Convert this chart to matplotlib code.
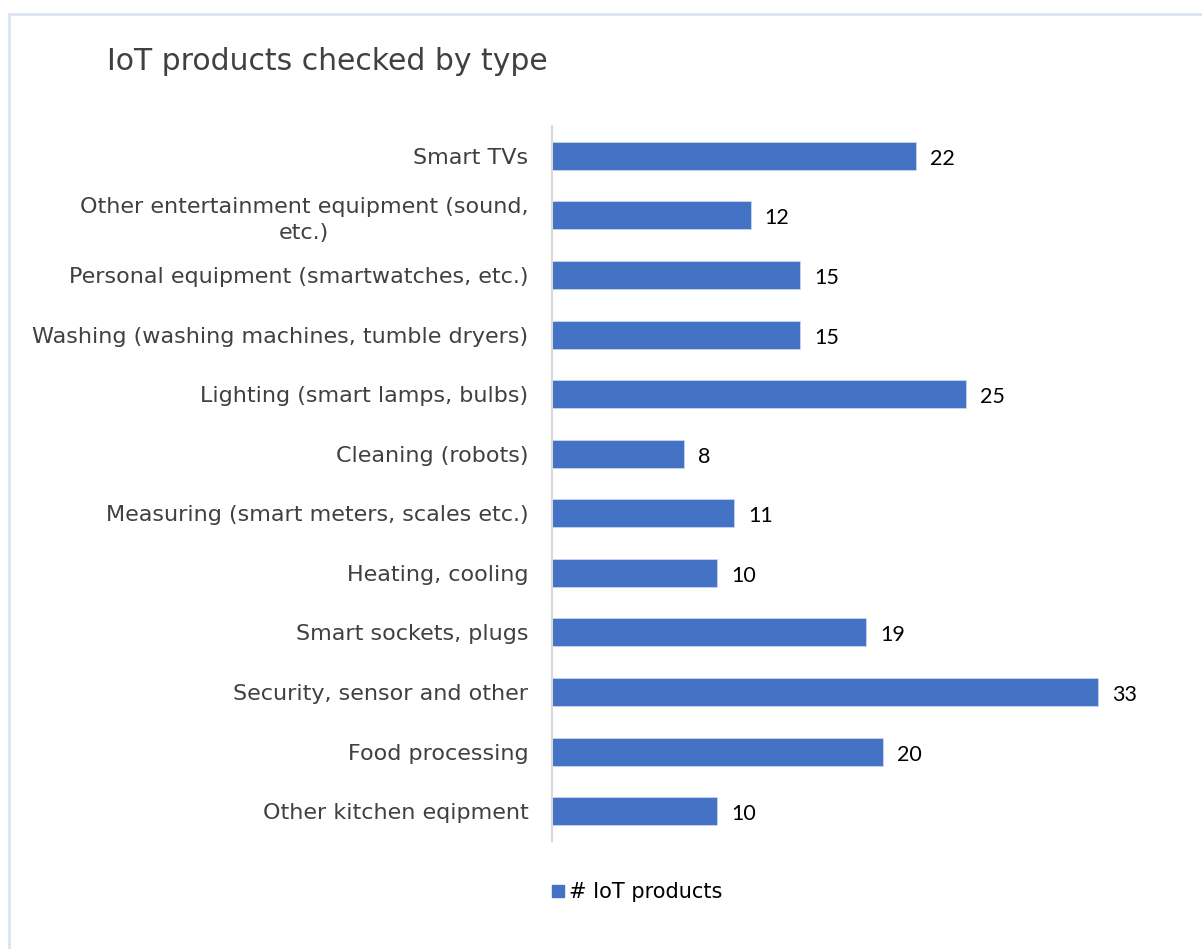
import matplotlib
matplotlib.use("Agg")
import matplotlib.pyplot as plt
from matplotlib.patches import Rectangle
from matplotlib.lines import Line2D

# Données
categories = [
    "Smart TVs",
    "Other entertainment equipment (sound,\netc.)",
    "Personal equipment (smartwatches, etc.)",
    "Washing (washing machines, tumble dryers)",
    "Lighting (smart lamps, bulbs)",
    "Cleaning (robots)",
    "Measuring (smart meters, scales etc.)",
    "Heating, cooling",
    "Smart sockets, plugs",
    "Security, sensor and other",
    "Food processing",
    "Other kitchen eqipment",
]
valeurs = [22, 12, 15, 15, 25, 8, 11, 10, 19, 33, 20, 10]
serie = "# IoT products"

bleu = "#4472C4"
gris_texte = "#404040"

W, H = 1202, 949
fig = plt.figure(figsize=(W / 100, H / 100), dpi=100)

# Cadre (seulement haut et gauche visibles)
fig.add_artist(Line2D([9 / W, 1], [1 - 14 / H, 1 - 14 / H], color="#DAE3F3", lw=2))
fig.add_artist(Line2D([9 / W, 9 / W], [0, 1 - 14 / H], color="#DAE3F3", lw=2))

ax = fig.add_axes([552 / W, 1 - 841 / H, (1131 - 552) / W, (841 - 126) / H])
y = list(range(len(categories)))[::-1]
ax.barh(y, valeurs, height=0.47, color=bleu, edgecolor="#C9D6EE", linewidth=0.6)
ax.set_xlim(0, 35)
ax.set_ylim(-0.5, len(categories) - 0.5)

ax.set_yticks(y)
ax.set_yticklabels(categories, fontsize=16, color=gris_texte, family="DejaVu Sans",
                   ha="right", multialignment="center", linespacing=1.35)
ax.tick_params(axis="y", length=0, pad=17)
ax.set_xticks([])
for s in ["top", "right", "bottom"]:
    ax.spines[s].set_visible(False)
ax.spines["left"].set_color("#D9D9D9")
ax.spines["left"].set_linewidth(1.5)

for yi, v in zip(y, valeurs):
    ax.annotate(str(v), (v, yi), xytext=(14, -3), textcoords="offset pixels",
                va="center", ha="left", fontsize=15.5, family="Lato", color="black")

fig.text(107 / W, 1 - 62 / H, "IoT products checked by type", fontsize=21.5,
         color=gris_texte, family="DejaVu Sans", va="center", ha="left")

# Légende
fig.add_artist(Rectangle((552 / W, 1 - 897 / H), 12 / W, 12 / H, color=bleu,
                         transform=fig.transFigure))
fig.text(569 / W, 1 - 892 / H, serie, fontsize=15, family="DejaVu Sans", color="black",
         va="center", ha="left")

fig.savefig("out.png", dpi=100, facecolor="white")
